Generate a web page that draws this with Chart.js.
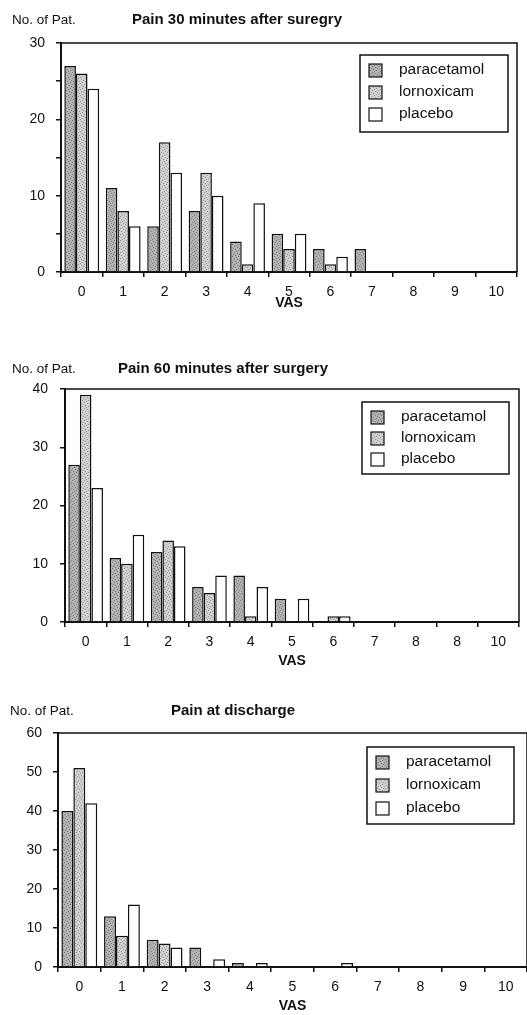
<!DOCTYPE html>
<html>
<head>
<meta charset="utf-8">
<script src="https://cdn.jsdelivr.net/npm/chart.js@4"></script>
<style>
  body { margin: 0; background: #fff; width: 527px; height: 1015px; position: relative; overflow: hidden; }
  .wrap { position: absolute; left: 0; width: 527px; }
  canvas { display: block; }
</style>
</head>
<body>
<div class="wrap" style="top:0;height:312px"><canvas id="c30" width="527" height="312"></canvas></div>
<div class="wrap" style="top:330px;height:340px"><canvas id="c60" width="527" height="340"></canvas></div>
<div class="wrap" style="top:690px;height:325px"><canvas id="cDis" width="527" height="325"></canvas></div>
<script>
// VAS categories (the 60 min chart has "8" printed twice in the original)
const vasLabels = ['0', '1', '2', '3', '4', '5', '6', '7', '8', '9', '10'];
const vasLabels60 = ['0', '1', '2', '3', '4', '5', '6', '7', '8', '8', '10'];
const seriesNames = ['paracetamol', 'lornoxicam', 'placebo'];

// Pain 30 minutes after surgery
const para30 = [27, 11, 6, 8, 4, 5, 3, 3, 0, 0, 0];
const lorn30 = [26, 8, 17, 13, 1, 3, 1, 0, 0, 0, 0];
const plac30 = [24, 6, 13, 10, 9, 5, 2, 0, 0, 0, 0];

// Pain 60 minutes after surgery
const para60 = [27, 11, 12, 6, 8, 4, 0, 0, 0, 0, 0];
const lorn60 = [39, 10, 14, 5, 1, 0, 1, 0, 0, 0, 0];
const plac60 = [23, 15, 13, 8, 6, 4, 1, 0, 0, 0, 0];

// Pain at discharge
const paraDis = [40, 13, 7, 5, 1, 0, 0, 0, 0, 0, 0];
const lornDis = [51, 8, 6, 0, 0, 0, 0, 0, 0, 0, 0];
const placDis = [42, 16, 5, 2, 1, 0, 1, 0, 0, 0, 0];

const FONT = "'Liberation Sans', Arial, sans-serif";
const INK = '#111';

// speckled grey fill like the scanned print
function texture(base, dot) {
    const c = document.createElement('canvas');
    c.width = c.height = 6;
    const g = c.getContext('2d');
    g.fillStyle = base;
    g.fillRect(0, 0, 6, 6);
    g.fillStyle = dot;
    [[0, 0], [3, 1], [1, 3], [4, 4], [2, 5], [5, 2]].forEach(([x, y]) => g.fillRect(x, y, 1, 1));
    return g.createPattern(c, 'repeat');
}
const fills = [texture('#b2b2b2', '#7c7c7c'), texture('#d0d0d0', '#9a9a9a'), '#ffffff'];

// "No. of Pat." + heading, frame on top/right, boxed legend inside plot
const decor = {
    id: 'decor',
    afterDraw(chart, args, o) {
        const { ctx, chartArea: a } = chart;
        ctx.save();
        ctx.strokeStyle = INK;
        ctx.lineWidth = 1.5;
        ctx.beginPath();
        ctx.moveTo(a.left, a.top);
        ctx.lineTo(a.right, a.top);
        ctx.lineTo(a.right, a.bottom);
        ctx.stroke();

        ctx.fillStyle = INK;
        ctx.textBaseline = 'middle';
        ctx.font = '13.5px ' + FONT;
        ctx.textAlign = 'left';
        ctx.fillText('No. of Pat.', o.unitX, o.headY);
        ctx.font = 'bold 15px ' + FONT;
        ctx.textAlign = 'center';
        ctx.fillText(o.title, o.titleX, o.headY);

        const bx = a.right - o.legRight - o.legW, by = a.top + o.legTop;
        ctx.lineWidth = 1.5;
        ctx.strokeRect(bx, by, o.legW, o.legH);
        ctx.font = '15.5px ' + FONT;
        ctx.textAlign = 'left';
        chart.data.datasets.forEach((ds, i) => {
            const cy = by + 15 + i * o.legGap;
            ctx.fillStyle = ds.backgroundColor;
            ctx.fillRect(bx + 9, cy - 6, 13, 13);
            ctx.lineWidth = 1.2;
            ctx.strokeRect(bx + 9, cy - 6, 13, 13);
            ctx.fillStyle = INK;
            ctx.fillText(ds.label, bx + 39, cy);
        });
        ctx.restore();
    }
};

function painChart(id, labels, series, cfg) {
    new Chart(document.getElementById(id), {
        type: 'bar',
        data: {
            labels: labels,
            datasets: series.map((d, i) => ({
                label: seriesNames[i],
                data: d,
                backgroundColor: fills[i],
                borderColor: INK,
                borderWidth: 1.5,
                borderSkipped: 'bottom',
                categoryPercentage: 0.84,
                barPercentage: 1
            }))
        },
        options: {
            responsive: false,
            animation: false,
            layout: { padding: { top: cfg.top, right: cfg.right, left: 0, bottom: 0 } },
            plugins: { legend: { display: false }, tooltip: { enabled: false }, decor: cfg.decor },
            scales: {
                x: {
                    afterFit: s => { s.height = cfg.xH; },
                    grid: { display: true, drawOnChartArea: false, offset: true, tickLength: 5, color: INK, lineWidth: 1.5 },
                    border: { display: true, color: INK, width: 2 },
                    ticks: { color: INK, font: { family: FONT, size: 14 }, padding: 7, maxRotation: 0, autoSkip: false },
                    title: { display: true, text: 'VAS', color: INK, font: { family: FONT, size: 14, weight: 'bold' }, padding: 0 }
                },
                y: {
                    min: 0,
                    max: cfg.yMax,
                    afterFit: s => { s.width = cfg.yW; },
                    grid: { display: true, drawOnChartArea: false, tickLength: 5, color: INK, lineWidth: 1.5 },
                    border: { display: true, color: INK, width: 2 },
                    ticks: {
                        stepSize: cfg.step,
                        color: INK,
                        font: { family: FONT, size: 14 },
                        padding: cfg.yPad,
                        callback: v => (v % 10 === 0 ? v : '')
                    }
                }
            }
        },
        plugins: [decor]
    });
}

painChart('c30', vasLabels, [para30, lorn30, plac30], {
    top: 43, right: 10, yW: 61, xH: 40, yMax: 30, step: 5, yPad: 11,
    decor: { title: 'Pain 30 minutes after suregry', titleX: 237, unitX: 12, headY: 20, legRight: 9, legTop: 12, legW: 148, legH: 77, legGap: 22 }
});
painChart('c60', vasLabels60, [para60, lorn60, plac60], {
    top: 59, right: 8, yW: 65, xH: 48, yMax: 40, step: 10, yPad: 12,
    decor: { title: 'Pain 60 minutes after surgery', titleX: 223, unitX: 12, headY: 39, legRight: 10, legTop: 13, legW: 147, legH: 72, legGap: 21 }
});
painChart('cDis', vasLabels, [paraDis, lornDis, placDis], {
    top: 43, right: 0, yW: 58, xH: 48, yMax: 60, step: 10, yPad: 11,
    decor: { title: 'Pain at discharge', titleX: 233, unitX: 10, headY: 21, legRight: 13, legTop: 14, legW: 147, legH: 77, legGap: 23 }
});
</script>
</body>
</html>
